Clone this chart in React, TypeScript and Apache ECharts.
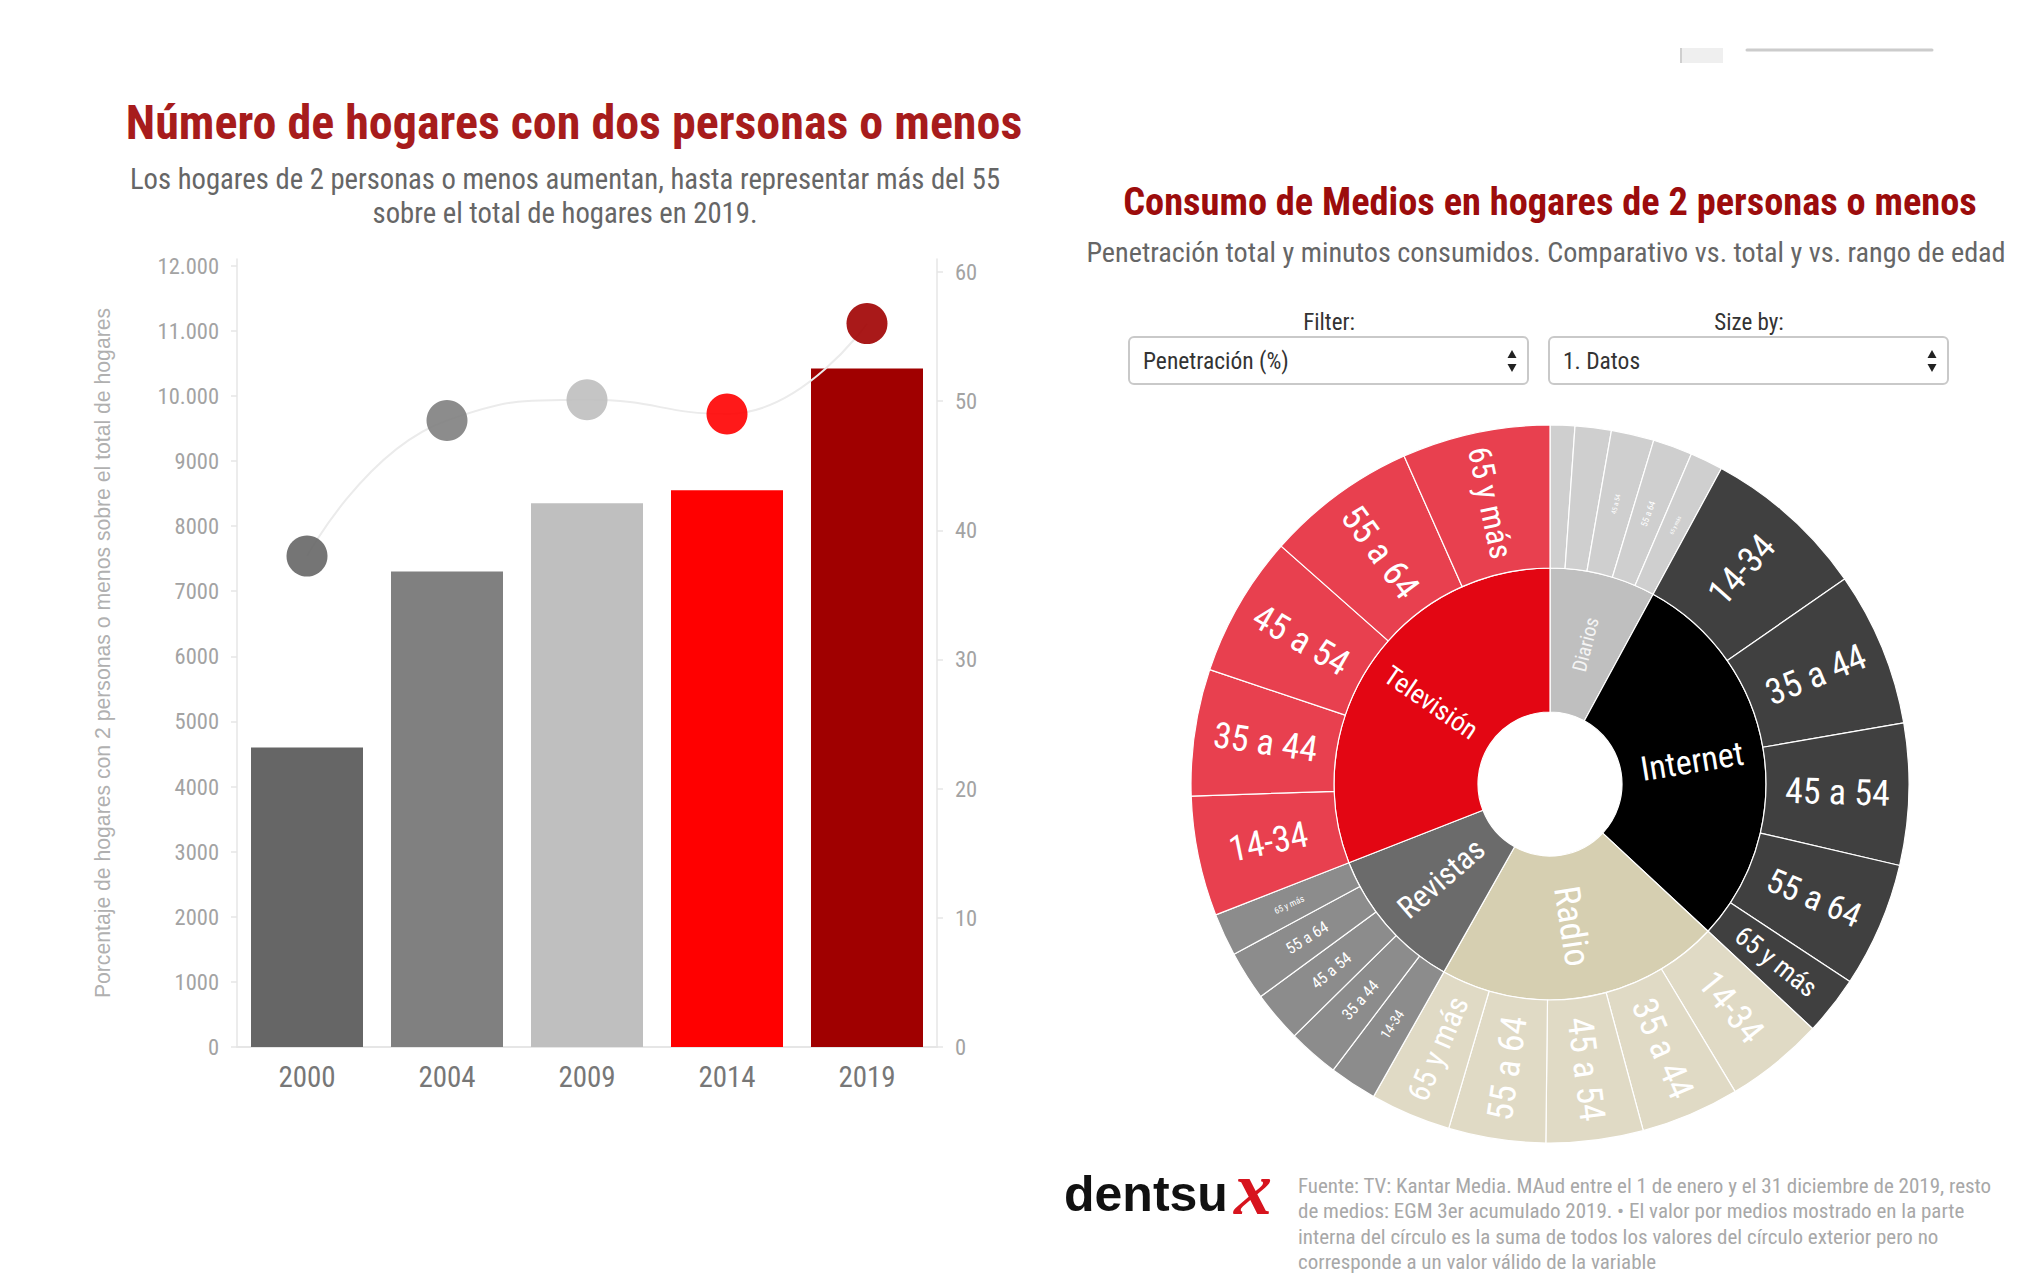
import React, { useEffect, useRef } from "react";
import * as echarts from "echarts";

// ---------- Bar / line chart data ----------
const YEARS = ["2000", "2004", "2009", "2014", "2019"];
const HOGARES = [4600, 7300, 8350, 8550, 10420];
const PORCENTAJE = [38, 48.5, 50.1, 49, 56];
const LEFT_TICKS = [0, 1000, 2000, 3000, 4000, 5000, 6000, 7000, 8000, 9000, 10000, 11000, 12000];
const RIGHT_TICKS = [0, 10, 20, 30, 40, 50, 60];

// ---------- Sunburst data ----------
const MEDIA = ["Diarios", "Internet", "Radio", "Revistas", "Televisión"];
const AGES = ["14-34", "35 a 44", "45 a 54", "55 a 64", "65 y más"];
const DIARIOS = [15, 22, 26, 24, 20];
const INTERNET = [100, 94, 86, 76, 36];
const RADIO = [60, 60, 59, 59, 49];
const REVISTAS = [29, 31, 31, 30, 26];
const TELEVISION = [73, 77, 86, 92, 90];
const MEDIA_VALUES = [DIARIOS, INTERNET, RADIO, REVISTAS, TELEVISION];

// ---------- Styles ----------
const COND = "'Roboto Condensed', 'Liberation Sans Narrow', 'Arial Narrow', Roboto, sans-serif";
const BAR_COLORS = ["#666666", "#808080", "#bfbfbf", "#ff0000", "#a00000"];
const INNER_COLORS = ["#bfbfbf", "#000000", "#d6cfb1", "#6b6b6b", "#e30613"];
const OUTER_COLORS = ["#cfcfcf", "#404040", "#e0dac5", "#8c8c8c", "#e8404f"];
const INNER_LABEL_SIZE = [20, 34, 36, 31, 27];
const OUTER_LABEL_SIZE = [
  [0, 0, 7, 9, 5.5],
  [36, 36, 36, 34, 27],
  [36, 36, 36, 36, 31],
  [14, 16, 16, 16, 9],
  [36, 36, 36, 36, 32],
];

const FOOTER_LINES = [
  "Fuente: TV: Kantar Media. MAud entre el 1 de enero y el 31 diciembre de 2019, resto",
  "de medios: EGM 3er acumulado 2019. • El valor por medios mostrado en la parte",
  "interna del círculo es la suma de todos los valores del círculo exterior pero no",
  "corresponde a un valor válido de la variable",
];

function txt(text: string, x: number, y: number, size: number, fill: string, opts: any = {}) {
  const align = opts.align || "center";
  return {
    type: "text",
    x,
    y,
    silent: true,
    style: {
      text,
      fontSize: size,
      fontFamily: opts.family || COND,
      fontWeight: opts.weight || "normal",
      fontStyle: opts.style || "normal",
      fill,
      align,
      verticalAlign: "middle",
      textAlign: align,
      textVerticalAlign: "middle",
    },
  };
}

function buildOption() {
  const sunData = MEDIA.map((m, i) => ({
    name: m,
    itemStyle: { color: INNER_COLORS[i] },
    label: {
      fontSize: INNER_LABEL_SIZE[i],
      color: i === 0 ? "#f4f4f4" : "#ffffff",
    },
    children: AGES.map((a, j) => ({
      name: a,
      value: MEDIA_VALUES[i][j],
      itemStyle: { color: OUTER_COLORS[i] },
      label: {
        show: OUTER_LABEL_SIZE[i][j] > 0,
        fontSize: OUTER_LABEL_SIZE[i][j] || 6,
        color: "#ffffff",
      },
    })),
  }));

  const graphic: any[] = [
    txt("Número de hogares con dos personas o menos", 574, 122, 48, "#a71c1c", { weight: "bold" }),
    txt("Los hogares de 2 personas o menos aumentan, hasta representar más del 55", 565, 179, 28.7, "#666666"),
    txt("sobre el total de hogares en 2019.", 565, 212.5, 28.7, "#666666"),
    txt("Consumo de Medios en hogares de 2 personas o menos", 1550, 201, 38.4, "#9c0c0c", { weight: "bold" }),
    txt("Penetración total y minutos consumidos. Comparativo vs. total y vs. rango de edad", 1546, 252, 28.2, "#666666"),
    txt("Filter:", 1329, 322, 23, "#333333"),
    txt("Size by:", 1749, 322, 23, "#333333"),
    {
      type: "rect",
      silent: true,
      shape: { x: 1129, y: 337, width: 399, height: 47, r: 5 },
      style: { fill: "#ffffff", stroke: "#c9c9c9", lineWidth: 2 },
    },
    {
      type: "rect",
      silent: true,
      shape: { x: 1549, y: 337, width: 399, height: 47, r: 5 },
      style: { fill: "#ffffff", stroke: "#c9c9c9", lineWidth: 2 },
    },
    txt("Penetración (%)", 1143, 361, 23.5, "#333333", { align: "left" }),
    txt("1. Datos", 1563, 361, 23.5, "#333333", { align: "left" }),
    { type: "polygon", silent: true, shape: { points: [[1507.5, 358], [1516.5, 358], [1512, 350]] }, style: { fill: "#222222" } },
    { type: "polygon", silent: true, shape: { points: [[1507.5, 364], [1516.5, 364], [1512, 372]] }, style: { fill: "#222222" } },
    { type: "polygon", silent: true, shape: { points: [[1927.5, 358], [1936.5, 358], [1932, 350]] }, style: { fill: "#222222" } },
    { type: "polygon", silent: true, shape: { points: [[1927.5, 364], [1936.5, 364], [1932, 372]] }, style: { fill: "#222222" } },
    // partially visible controls at the top right
    { type: "rect", silent: true, shape: { x: 1680, y: 48, width: 43, height: 15 }, style: { fill: "#efefef" } },
    { type: "line", silent: true, shape: { x1: 1681, y1: 48, x2: 1681, y2: 63 }, style: { stroke: "#cfcfcf", lineWidth: 2 } },
    { type: "line", silent: true, shape: { x1: 1747, y1: 50, x2: 1932, y2: 50 }, style: { stroke: "#cccccc", lineWidth: 3, lineCap: "round" } },
    // logo
    txt("dentsu", 1064, 1194, 50, "#111111", { align: "left", weight: "bold", family: "'Liberation Sans', Arial, sans-serif" }),
    txt("x", 1253, 1188, 76, "#d7141e", { weight: "bold", style: "italic", family: "'Liberation Serif', 'DejaVu Serif', serif" }),
  ];
  FOOTER_LINES.forEach((l, i) => {
    graphic.push(txt(l, 1298, 1186 + i * 25.3, 21, "#a8a8a8", { align: "left" }));
  });

  return {
    animation: false,
    backgroundColor: "#ffffff",
    graphic,
    grid: { left: 237, top: 259, width: 700, height: 788, containLabel: false },
    xAxis: {
      type: "category",
      data: YEARS,
      axisLine: { lineStyle: { color: "#e6e6e6", width: 2 } },
      axisTick: { alignWithLabel: true, length: 7, lineStyle: { color: "#e6e6e6", width: 1.5 } },
      axisLabel: { color: "#777777", fontSize: 29, fontFamily: COND, margin: 15 },
      splitLine: { show: false },
    },
    yAxis: [
      {
        type: "value",
        min: 0,
        max: 12100,
        position: "left",
        name: "Porcentaje de hogares con 2 personas o menos sobre el total de hogares",
        nameLocation: "middle",
        nameGap: 124,
        nameRotate: 90,
        nameTextStyle: { color: "#b0b0b0", fontSize: 21.2, fontFamily: "'Liberation Sans', Arial, sans-serif" },
        axisLine: { show: true, lineStyle: { color: "#e6e6e6", width: 1.5 } },
        axisTick: { show: true, length: 6, customValues: LEFT_TICKS, lineStyle: { color: "#e6e6e6", width: 1.5 } },
        axisLabel: {
          customValues: LEFT_TICKS,
          color: "#a3a3a3",
          fontSize: 22.5,
          fontFamily: COND,
          margin: 18,
          formatter: (v: number) => (v >= 10000 ? String(v / 1000) + ".000" : String(v)),
        },
        splitLine: { show: false },
      },
      {
        type: "value",
        min: 0,
        max: 61,
        position: "right",
        axisLine: { show: true, lineStyle: { color: "#e6e6e6", width: 1.5 } },
        axisTick: { show: true, length: 6, customValues: RIGHT_TICKS, lineStyle: { color: "#e6e6e6", width: 1.5 } },
        axisLabel: { customValues: RIGHT_TICKS, color: "#a3a3a3", fontSize: 22.5, fontFamily: COND, margin: 18 },
        splitLine: { show: false },
      },
    ],
    series: [
      {
        type: "bar",
        yAxisIndex: 0,
        barWidth: "80%",
        silent: true,
        data: HOGARES.map((v, i) => ({ value: v, itemStyle: { color: BAR_COLORS[i] } })),
      },
      {
        type: "line",
        yAxisIndex: 1,
        smooth: true,
        silent: true,
        z: 3,
        symbol: "circle",
        symbolSize: 41,
        lineStyle: { color: "#ebebeb", width: 2 },
        data: PORCENTAJE.map((v, i) => ({ value: v, itemStyle: { color: BAR_COLORS[i], opacity: 0.9 } })),
      },
      {
        type: "sunburst",
        center: [1550, 784],
        radius: [72, 359],
        sort: null,
        startAngle: 90,
        nodeClick: false,
        silent: true,
        emphasis: { disabled: true },
        itemStyle: { borderColor: "#ffffff", borderWidth: 1.2 },
        label: { rotate: "radial", fontFamily: COND, color: "#ffffff" },
        levels: [
          {},
          { r0: 72, r: 216 },
          { r0: 216, r: 359 },
        ],
        data: sunData,
      },
    ],
  };
}

export default function App() {
  const ref = useRef<HTMLDivElement>(null);
  useEffect(() => {
    if (!ref.current) return;
    const chart = echarts.init(ref.current, undefined, { renderer: "svg" });
    chart.setOption(buildOption() as any);
    return () => chart.dispose();
  }, []);
  return (
    <div
      ref={ref}
      style={{ position: "fixed", left: 0, top: 0, width: 2019, height: 1278, background: "#fff" }}
    />
  );
}
